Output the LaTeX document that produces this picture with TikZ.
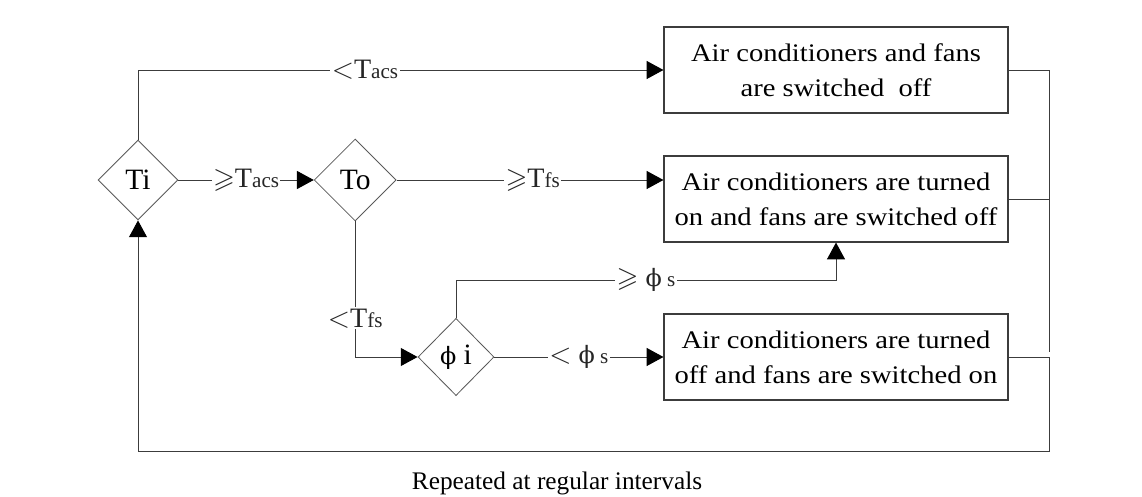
\documentclass[tikz,border=0pt]{standalone}
\usepackage{amssymb}
\usepackage{fontspec}
\setmainfont{Liberation Serif}
\newfontfamily\wide{Liberation Serif}[FakeStretch=1.13]
\newfontfamily\greek{DejaVu Serif}
\usetikzlibrary{positioning,arrows.meta,shapes.geometric}
\definecolor{ink}{HTML}{3C3C3C}
\newcommand{\lowsub}[1]{{\fontsize{15}{18}\selectfont #1}}
\newcommand{\fii}{{\greek\fontsize{17}{20}\selectfont ϕ}}

\begin{document}
\begin{tikzpicture}[
  font=\fontsize{20}{24}\selectfont,
  box/.style={draw=ink, line width=0.8pt, align=center, minimum height=2.15cm, minimum width=8.6cm, inner sep=0pt, font=\wide\fontsize{18}{25}\selectfont},
  test/.style={diamond, draw=ink!85, line width=0.6pt, minimum width=2cm, minimum height=2cm, inner sep=0pt, font=\fontsize{21}{24}\selectfont},
  arr/.style={-{Triangle[length=4.2mm, width=4.5mm, color=black]}, line width=0.7pt, ink},
  wire/.style={line width=0.7pt, ink},
  lbl/.style={fill=white, inner sep=1pt, text=black!85}
]
\useasboundingbox (0,0) rectangle (28.55,-12.425);
% decisions
\node[test] (ti)  at (3.45,-4.5)  {Ti};
\node[test, minimum width=2.05cm, minimum height=2.05cm] (to) at (8.88,-4.5) {To};
\node[test, minimum width=1.9cm, minimum height=1.93cm] (phi) at (11.4,-8.925) {\fii\ i};
% actions
\node[box] (box1) at (20.9,-1.75)  {Air conditioners and fans\\are switched\ \ off};
\node[box] (box2) at (20.9,-4.975) {Air conditioners are turned\\on and fans are switched off};
\node[box] (box3) at (20.9,-8.925) {Air conditioners are turned\\off and fans are switched on};
\node[font=\fontsize{18}{22}\selectfont] (note) at (13.925,-12.075) {Repeated at regular intervals};
% helper points
\coordinate (split) at (11.4,-7);
\coordinate (railend) at (26.225,-8.8);
\coordinate (loop) at (26.225,-11.275);

\draw[arr] (ti.north) |- node[lbl, pos=0.716]{$<$T\lowsub{acs}} (box1.west);
\draw[arr] (ti) -- node[lbl]{$\geqslant$T\lowsub{acs}} (to);
\draw[arr] (to.east) -- node[lbl, pos=0.51]{$\geqslant$T\lowsub{fs}} (to.east -| box2.west);
\draw[arr] (to.south) |- node[lbl, pos=0.357]{$<$T\lowsub{fs}} (phi.west);
\draw[arr] (phi.north) -- (split) -| node[lbl, pos=0.25]{$\geqslant$ \fii\lowsub{ s}} (box2.south);
\draw[arr] (phi) -- node[lbl]{$<$ \fii\lowsub{ s}} (box3);
% feedback to the start
\draw[wire] (box1.east) -| (railend);
\draw[wire] (box2.east) -- (box2.east -| railend);
\draw[arr] (box3.east) -| (loop) -| (ti.south);
\end{tikzpicture}
\end{document}
